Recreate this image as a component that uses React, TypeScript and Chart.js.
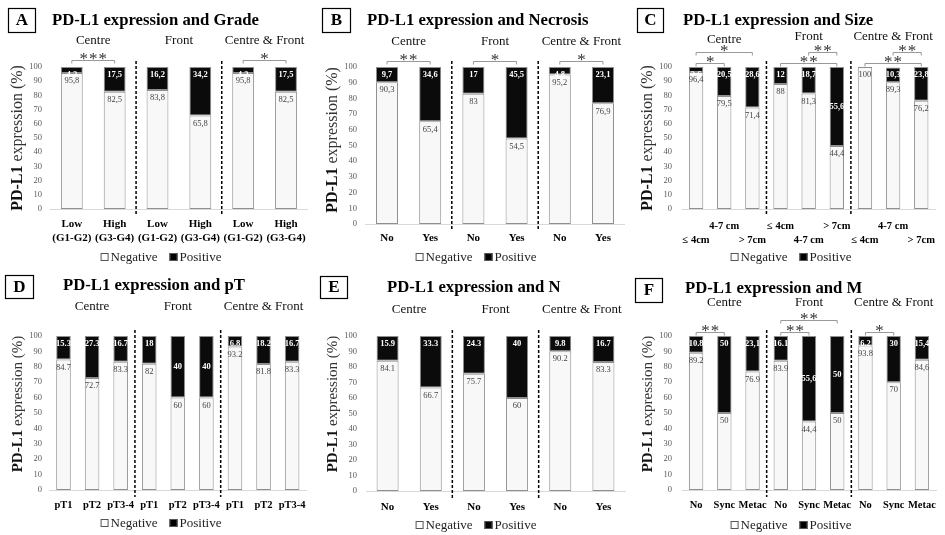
import React, { useEffect, useRef } from 'react';
import { Chart, registerables } from 'chart.js';
Chart.register(...registerables);

const SERIF = "'Liberation Serif', 'Times New Roman', serif";

// ---------- DATA ----------
const GROUPS = ['Centre', 'Front', 'Centre & Front'];

const A_LABELS = [['Low', '(G1-G2)'], ['High', '(G3-G4)'], ['Low', '(G1-G2)'], ['High', '(G3-G4)'], ['Low', '(G1-G2)'], ['High', '(G3-G4)']];
const A_NEG = [95.8, 82.5, 83.8, 65.8, 95.8, 82.5];
const A_POS = [4.2, 17.5, 16.2, 34.2, 4.2, 17.5];
const A_SIG = [{ a: 0, b: 1, t: '***', lvl: 0 }, { a: 4, b: 5, t: '*', lvl: 0 }];

const B_LABELS = ['No', 'Yes', 'No', 'Yes', 'No', 'Yes'];
const B_NEG = [90.3, 65.4, 83, 54.5, 95.2, 76.9];
const B_POS = [9.7, 34.6, 17, 45.5, 4.8, 23.1];
const B_SIG = [{ a: 0, b: 1, t: '**', lvl: 0 }, { a: 2, b: 3, t: '*', lvl: 0 }, { a: 4, b: 5, t: '*', lvl: 0 }];

const C_LABELS = [['', '≤ 4cm'], ['4-7 cm', ''], ['', '> 7cm'], ['≤ 4cm', ''], ['', '4-7 cm'], ['> 7cm', ''], ['', '≤ 4cm'], ['4-7 cm', ''], ['', '> 7cm']];
const C_NEG = [96.4, 79.5, 71.4, 88, 81.3, 44.4, 100, 89.3, 76.2];
const C_POS = [3.6, 20.5, 28.6, 12, 18.7, 55.6, 0, 10.3, 23.8];
const C_SIG = [
  { a: 0, b: 2, t: '*', lvl: 1 }, { a: 0, b: 1, t: '*', lvl: 0 },
  { a: 4, b: 5, t: '**', lvl: 1 }, { a: 3, b: 5, t: '**', lvl: 0 },
  { a: 7, b: 8, t: '**', lvl: 1 }, { a: 6, b: 8, t: '**', lvl: 0 },
];

const D_LABELS = ['pT1', 'pT2', 'pT3-4', 'pT1', 'pT2', 'pT3-4', 'pT1', 'pT2', 'pT3-4'];
const D_NEG = [84.7, 72.7, 83.3, 82, 60, 60, 93.2, 81.8, 83.3];
const D_POS = [15.3, 27.3, 16.7, 18, 40, 40, 6.8, 18.2, 16.7];

const E_LABELS = ['No', 'Yes', 'No', 'Yes', 'No', 'Yes'];
const E_NEG = [84.1, 66.7, 75.7, 60, 90.2, 83.3];
const E_POS = [15.9, 33.3, 24.3, 40, 9.8, 16.7];

const F_LABELS = ['No', 'Sync', 'Metac', 'No', 'Sync', 'Metac', 'No', 'Sync', 'Metac'];
const F_NEG = [89.2, 50, 76.9, 83.9, 44.4, 50, 93.8, 70, 84.6];
const F_POS = [10.8, 50, 23.1, 16.1, 55.6, 50, 6.2, 30, 15.4];
const F_POS_SEP = ['.', '.', ',', '.', ',', '.', '.', '.', ','];
const F_NEG_SEP = ['.', '.', '.', '.', ',', '.', '.', '.', ','];
const F_SIG = [
  { a: 0, b: 1, t: '**', lvl: 0 }, { a: 3, b: 5, t: '**', lvl: 1 },
  { a: 3, b: 4, t: '**', lvl: 0 }, { a: 6, b: 7, t: '*', lvl: 0 },
];

const Y_TICKS = [0, 10, 20, 30, 40, 50, 60, 70, 80, 90, 100];

// ---------- PANELS (data + layout) ----------
type Sig = { a: number; b: number; t: string; lvl: number };
type Panel = {
  letter: string; title: string; labels: any[]; neg: number[]; pos: number[];
  sig: Sig[]; posSep: string | string[]; negSep: string | string[]; mid: number[];
  x: number; y: number; w: number; h: number;
  L: number; R: number; T: number; B: number;
  box: [number, number, number, number]; titleX: number; titleY: number;
  groupY: number[]; brY: number[]; legendY: number; yTitleY: number; yTitleSize: number;
  labelPad: number; labelSize: number; labelLH: number;
};

const PANELS: Panel[] = [
  { letter: 'A', title: 'PD-L1 expression and Grade', labels: A_LABELS, neg: A_NEG, pos: A_POS, sig: A_SIG, posSep: ',', negSep: ',', mid: [],
    x: 0, y: 0, w: 315, h: 268, L: 50.4, R: 309.6, T: 67, B: 209, box: [8, 8, 27, 24], titleX: 52, titleY: 20,
    groupY: [41, 41, 41], brY: [60, 52], legendY: 257, yTitleY: 138, yTitleSize: 16, labelPad: 9, labelSize: 11, labelLH: 1.2 },
  { letter: 'B', title: 'PD-L1 expression and Necrosis', labels: B_LABELS, neg: B_NEG, pos: B_POS, sig: B_SIG, posSep: ',', negSep: ',', mid: [],
    x: 315, y: 0, w: 315, h: 268, L: 50.4, R: 309.6, T: 67, B: 224, box: [7, 8, 28, 24], titleX: 52, titleY: 20,
    groupY: [42, 42, 42], brY: [61, 52], legendY: 257, yTitleY: 140, yTitleSize: 16, labelPad: 8, labelSize: 11, labelLH: 1.2 },
  { letter: 'C', title: 'PD-L1 expression and Size', labels: C_LABELS, neg: C_NEG, pos: C_POS, sig: C_SIG, posSep: ',', negSep: ',', mid: [5],
    x: 630, y: 0, w: 315, h: 268, L: 52, R: 313, T: 67, B: 209, box: [7, 8, 26, 24], titleX: 53, titleY: 20,
    groupY: [40, 37, 37], brY: [63, 52], legendY: 257, yTitleY: 138, yTitleSize: 16, labelPad: 10, labelSize: 10.5, labelLH: 1.35 },
  { letter: 'D', title: 'PD-L1 expression and pT', labels: D_LABELS, neg: D_NEG, pos: D_POS, sig: [], posSep: '.', negSep: '.', mid: [4, 5],
    x: 0, y: 268, w: 315, h: 267, L: 49.2, R: 306.8, T: 68, B: 222, box: [5, 7, 28, 23], titleX: 63, titleY: 17,
    groupY: [39, 39, 39], brY: [60, 52], legendY: 255, yTitleY: 136, yTitleSize: 15, labelPad: 9, labelSize: 10.5, labelLH: 1.2 },
  { letter: 'E', title: 'PD-L1 expression and N', labels: E_LABELS, neg: E_NEG, pos: E_POS, sig: [], posSep: '.', negSep: '.', mid: [],
    x: 315, y: 268, w: 315, h: 267, L: 51, R: 310, T: 68, B: 223, box: [5, 8, 27, 22], titleX: 72, titleY: 19,
    groupY: [42, 42, 42], brY: [60, 52], legendY: 257, yTitleY: 136, yTitleSize: 15, labelPad: 10, labelSize: 11, labelLH: 1.2 },
  { letter: 'F', title: 'PD-L1 expression and M', labels: F_LABELS, neg: F_NEG, pos: F_POS, sig: F_SIG, posSep: F_POS_SEP, negSep: F_NEG_SEP, mid: [4, 5],
    x: 630, y: 268, w: 315, h: 267, L: 52, R: 313, T: 68, B: 222, box: [5, 10, 27, 24], titleX: 55, titleY: 20,
    groupY: [35, 35, 35], brY: [64, 52], legendY: 257, yTitleY: 136, yTitleSize: 15, labelPad: 9, labelSize: 10.5, labelLH: 1.2 },
];

function fmt(v: number, sep: string | string[], i: number) {
  const s = Array.isArray(sep) ? sep[i] : sep;
  return String(v).replace('.', s);
}

function makeOverlay(p: Panel) {
  return {
    id: 'overlay' + p.letter,
    afterDatasetsDraw(chart: any) {
      const ctx = chart.ctx;
      const xs = chart.scales.x;
      const ys = chart.scales.y;
      ctx.save();
      ctx.textAlign = 'center';
      ctx.textBaseline = 'middle';
      p.labels.forEach((_: any, i: number) => {
        const cx = xs.getPixelForValue(i);
        const neg = p.neg[i];
        const pos = p.pos[i];
        if (pos > 0) {
          const py = p.mid.includes(i) ? ys.getPixelForValue(neg + pos / 2) : ys.getPixelForValue(100) + 8;
          ctx.font = `bold 8.5px ${SERIF}`;
          ctx.fillStyle = '#ffffff';
          ctx.fillText(fmt(pos, p.posSep, i), cx, py);
        }
        ctx.font = `8.5px ${SERIF}`;
        ctx.fillStyle = '#444444';
        ctx.fillText(fmt(neg, p.negSep, i), cx, ys.getPixelForValue(neg) + 8);
      });
      ctx.restore();
    },
    afterDraw(chart: any) {
      const ctx = chart.ctx;
      const xs = chart.scales.x;
      const n = p.labels.length;
      const gs = n / 3;
      ctx.save();
      // letter box
      const [bx, by, bw, bh] = p.box;
      ctx.strokeStyle = '#000';
      ctx.lineWidth = 1.2;
      ctx.strokeRect(bx + 0.5, by + 0.5, bw, bh);
      ctx.fillStyle = '#000';
      ctx.textAlign = 'center';
      ctx.textBaseline = 'middle';
      ctx.font = `bold 17px ${SERIF}`;
      ctx.fillText(p.letter, bx + bw / 2 + 0.5, by + bh / 2 + 1);
      // title
      ctx.textAlign = 'left';
      ctx.font = `bold 16.7px ${SERIF}`;
      ctx.fillText(p.title, p.titleX, p.titleY + 1);
      // group titles
      ctx.textAlign = 'center';
      ctx.font = `13px ${SERIF}`;
      ctx.fillStyle = '#111';
      for (let g = 0; g < 3; g++) {
        const c = (xs.getPixelForValue(g * gs) + xs.getPixelForValue(g * gs + gs - 1)) / 2;
        ctx.fillText(GROUPS[g], c, p.groupY[g]);
      }
      // dashed separators
      ctx.strokeStyle = '#000';
      ctx.lineWidth = 1.5;
      ctx.setLineDash([3, 2]);
      for (let g = 1; g < 3; g++) {
        const x = (xs.getPixelForValue(g * gs - 1) + xs.getPixelForValue(g * gs)) / 2;
        ctx.beginPath();
        ctx.moveTo(x, p.T - 6);
        ctx.lineTo(x, p.B + 7);
        ctx.stroke();
      }
      ctx.setLineDash([]);
      // significance brackets
      p.sig.forEach((s) => {
        const x1 = xs.getPixelForValue(s.a);
        const x2 = xs.getPixelForValue(s.b);
        const y = p.brY[s.lvl] + 0.5;
        ctx.strokeStyle = '#999';
        ctx.lineWidth = 1;
        ctx.beginPath();
        ctx.moveTo(x1, y + 3);
        ctx.lineTo(x1, y);
        ctx.lineTo(x2, y);
        ctx.lineTo(x2, y + 3);
        ctx.stroke();
        ctx.fillStyle = '#333';
        ctx.font = `17px ${SERIF}`;
        ctx.textBaseline = 'alphabetic';
        ctx.textAlign = 'center';
        const k = s.t.length;
        const mx = (x1 + x2) / 2;
        for (let j = 0; j < k; j++) {
          ctx.fillText('*', mx + (j - (k - 1) / 2) * 9.5, y + 3);
        }
      });
      // y-axis title
      ctx.save();
      ctx.translate(18, p.yTitleY);
      ctx.rotate(-Math.PI / 2);
      ctx.textBaseline = 'middle';
      ctx.textAlign = 'left';
      const fb = `bold ${p.yTitleSize}px ${SERIF}`;
      const fn = `${p.yTitleSize}px ${SERIF}`;
      ctx.font = fb;
      const w1 = ctx.measureText('PD-L1').width;
      ctx.font = fn;
      const w2 = ctx.measureText(' expression (%)').width;
      const sx = -(w1 + w2) / 2;
      ctx.fillStyle = '#111';
      ctx.font = fb;
      ctx.fillText('PD-L1', sx, 0);
      ctx.font = fn;
      ctx.fillStyle = '#333';
      ctx.fillText(' expression (%)', sx + w1, 0);
      ctx.restore();
      // legend
      ctx.font = `13px ${SERIF}`;
      ctx.textBaseline = 'middle';
      ctx.textAlign = 'left';
      const items = [{ t: 'Negative', f: '#ffffff' }, { t: 'Positive', f: '#000000' }];
      const box = 8, gap = 2, between = 12;
      const widths = items.map((it) => box + gap + ctx.measureText(it.t).width);
      const total = widths[0] + widths[1] + between;
      let lx = 161 - total / 2;
      items.forEach((it, k) => {
        ctx.fillStyle = it.f;
        ctx.fillRect(lx, p.legendY - box / 2, box, box);
        ctx.strokeStyle = '#555';
        ctx.lineWidth = 1;
        ctx.strokeRect(lx + 0.5, p.legendY - box / 2 + 0.5, box - 1, box - 1);
        ctx.fillStyle = '#222';
        ctx.fillText(it.t, lx + box + gap, p.legendY + 1);
        lx += widths[k] + between;
      });
      ctx.restore();
    },
  };
}

function PanelChart({ p }: { p: Panel }) {
  const ref = useRef<HTMLCanvasElement>(null);
  useEffect(() => {
    const chart = new Chart(ref.current as HTMLCanvasElement, {
      type: 'bar',
      data: {
        labels: p.labels,
        datasets: [
          { label: 'Negative', data: p.neg, backgroundColor: '#f8f8f8', borderColor: '#8f8f8f', borderWidth: 1, borderSkipped: false, barPercentage: 0.51, categoryPercentage: 1 },
          { label: 'Positive', data: p.pos, backgroundColor: '#0b0b0b', borderColor: '#8f8f8f', borderWidth: 1, borderSkipped: false, barPercentage: 0.51, categoryPercentage: 1 },
        ],
      },
      options: {
        responsive: false,
        animation: false,
        devicePixelRatio: 1,
        layout: { autoPadding: false, padding: { left: 0, right: p.w - p.R, top: p.T, bottom: 0 } },
        plugins: { legend: { display: false }, tooltip: { enabled: false } },
        scales: {
          x: {
            stacked: true,
            grid: { display: false, drawTicks: false },
            border: { display: true, color: '#d9d9d9' },
            ticks: { autoSkip: false, maxRotation: 0, minRotation: 0, padding: p.labelPad, color: '#000', font: { family: SERIF, size: p.labelSize, weight: 'bold', lineHeight: p.labelLH } },
            afterFit: (s: any) => { s.height = p.h - p.B; },
          },
          y: {
            stacked: true, min: 0, max: 100,
            afterBuildTicks: (s: any) => { s.ticks = Y_TICKS.map((v) => ({ value: v })); },
            grid: { display: false, drawTicks: false },
            border: { display: false },
            ticks: { padding: p.L - 42, color: '#595959', font: { family: SERIF, size: 8.5 } },
            afterFit: (s: any) => { s.width = p.L; },
          },
        },
      } as any,
      plugins: [makeOverlay(p)],
    });
    return () => chart.destroy();
  }, []);
  return (
    <div style={{ position: 'absolute', left: p.x, top: p.y, width: p.w, height: p.h }}>
      <canvas ref={ref} width={p.w} height={p.h} style={{ display: 'block' }} />
    </div>
  );
}

export default function App() {
  return (
    <div style={{ position: 'fixed', left: 0, top: 0, width: 945, height: 535, background: '#fff', overflow: 'hidden' }}>
      {PANELS.map((p) => <PanelChart key={p.letter} p={p} />)}
    </div>
  );
}
